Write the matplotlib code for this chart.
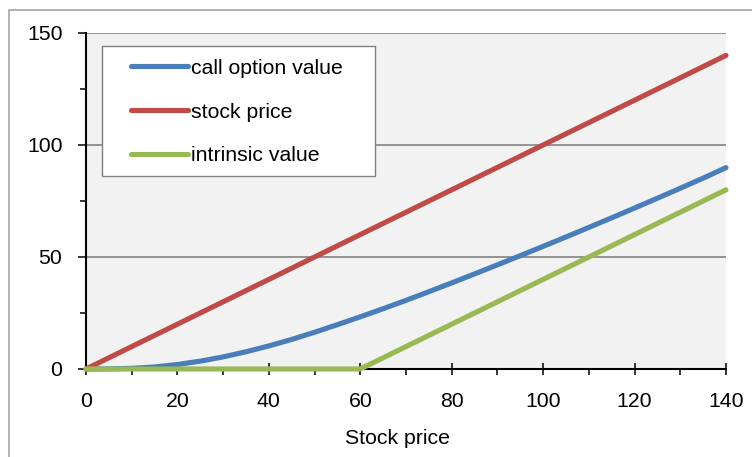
import matplotlib
matplotlib.use("Agg")
import matplotlib.pyplot as plt
from matplotlib.patches import Rectangle
from matplotlib.ticker import MultipleLocator

plt.rcParams['font.family'] = ['Liberation Sans', 'DejaVu Sans']

# Stock price grid and the three series
stock = [0, 5, 10, 15, 20, 25, 30, 35, 40, 45, 50, 55, 60, 65, 70,
         75, 80, 85, 90, 95, 100, 105, 110, 115, 120, 125, 130, 135, 140]
call_value = [0, 0.05, 0.3, 0.9, 2.0, 3.5, 5.4, 7.7, 10.3, 13.2, 16.4, 19.8, 23.3, 26.9, 30.65,
              34.5, 38.45, 42.45, 46.5, 50.6, 54.75, 58.95, 63.2, 67.5, 71.85, 76.25, 80.7, 85.2, 89.9]
stock_price = [0, 5, 10, 15, 20, 25, 30, 35, 40, 45, 50, 55, 60, 65, 70,
               75, 80, 85, 90, 95, 100, 105, 110, 115, 120, 125, 130, 135, 140]
intrinsic = [0, 0, 0, 0, 0, 0, 0, 0, 0, 0, 0, 0, 0, 5, 10,
             15, 20, 25, 30, 35, 40, 45, 50, 55, 60, 65, 70, 75, 80]

series_names = ["call option value", "stock price", "intrinsic value"]
series_colors = ["#4A7EBB", "#BE4B48", "#98B954"]

FS = 15.3
W, H = 752, 457
fig = plt.figure(figsize=(W / 100, H / 100), dpi=100)

# outer chart frame
fig.patches.append(Rectangle((9 / W, -0.1), 1.2, (H - 10) / H + 0.1,
                             transform=fig.transFigure, fill=False,
                             edgecolor="#A6A6A6", linewidth=1.2))

left, right, top, bottom = 86, 726, 33, 369
ax = fig.add_axes([left / W, (H - bottom) / H, (right - left) / W, (bottom - top) / H])
ax.set_facecolor("#F2F2F2")

for vals, name, col in zip([call_value, stock_price, intrinsic], series_names, series_colors):
    ax.plot(stock, vals, color=col, linewidth=3.7, solid_capstyle="round",
            solid_joinstyle="round", label=name, zorder=3, clip_on=False)

ax.set_xlim(0, 140)
ax.set_ylim(0, 150)
ax.xaxis.set_major_locator(MultipleLocator(20))
ax.xaxis.set_minor_locator(MultipleLocator(10))
ax.yaxis.set_major_locator(MultipleLocator(50))
ax.yaxis.set_minor_locator(MultipleLocator(25))

ax.grid(axis="y", which="major", color="#8C8C8C", linewidth=1.3, zorder=1)
ax.set_axisbelow(True)

for s in ("top", "right"):
    ax.spines[s].set_visible(False)
for s in ("left", "bottom"):
    ax.spines[s].set_color("black")
    ax.spines[s].set_linewidth(1.5)
    ax.spines[s].set_zorder(2)

ax.tick_params(axis="x", which="major", direction="inout", length=8.5, width=1.1,
               pad=12, labelsize=FS)
ax.tick_params(axis="x", which="minor", direction="out", length=4, width=1.1)
ax.tick_params(axis="y", which="major", direction="out", length=6, width=1.1,
               pad=11, labelsize=FS)
ax.tick_params(axis="y", which="minor", direction="out", length=4.5, width=1.1)

ax.set_xlabel("Stock price", fontsize=FS)
ax.xaxis.set_label_coords((397.5 - left) / (right - left), -(439 - bottom) / (bottom - top))
ax.xaxis.label.set_verticalalignment("center")

# legend box
ax.add_patch(Rectangle(((102 - left) / 640, (bottom - 176) / 336), 273 / 640, 130 / 336,
                       transform=ax.transAxes, facecolor="white", edgecolor="#808080",
                       linewidth=1.0, zorder=4, clip_on=False))
leg = ax.legend(loc="center left",
                bbox_to_anchor=((131 - left) / 640, (bottom - 112) / 336),
                frameon=False, borderpad=0, borderaxespad=0,
                handlelength=57 / 21.25, handletextpad=0.12, labelspacing=1.17,
                fontsize=FS)
leg.set_zorder(5)

fig.savefig("out.png", dpi=100)
